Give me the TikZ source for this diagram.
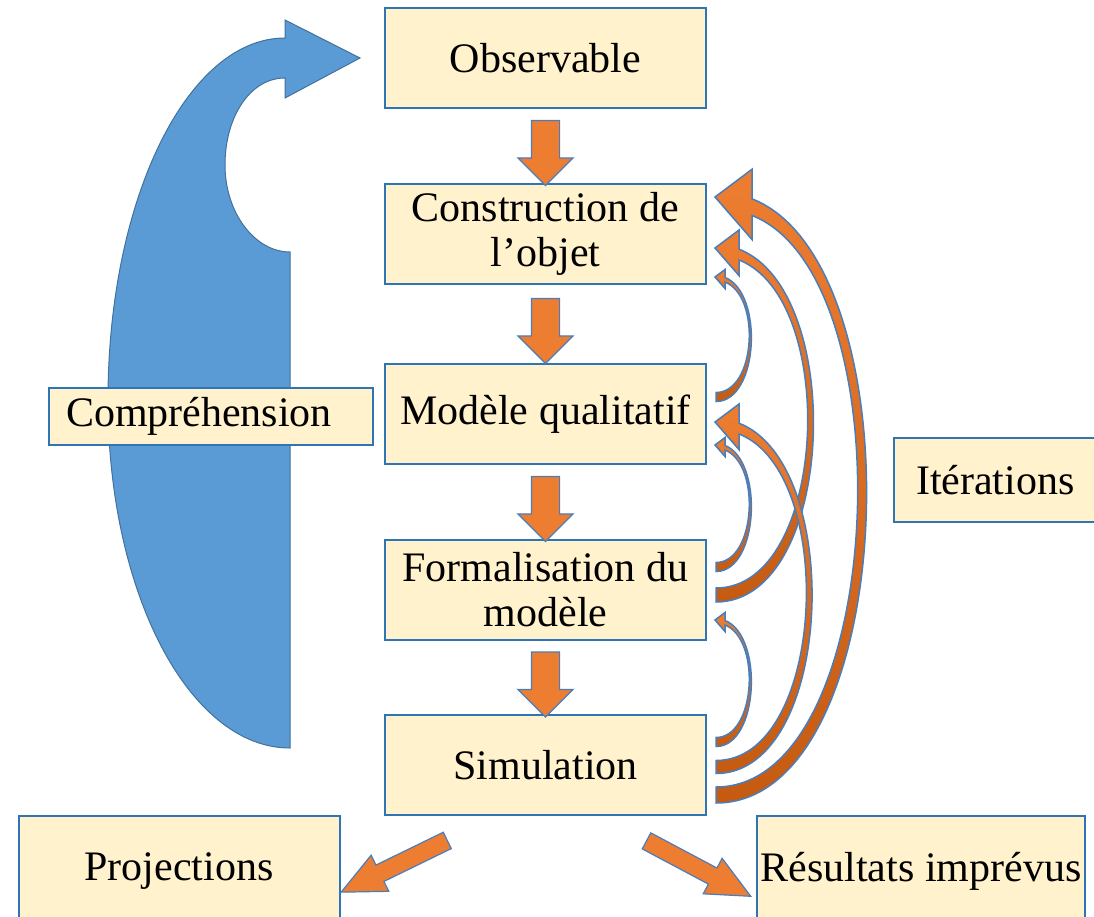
\documentclass[tikz,border=0pt]{standalone}
\usepackage{fontspec}
\setmainfont{Liberation Serif}
\usetikzlibrary{calc,shapes.arrows}

\definecolor{boxfill}{HTML}{FFF2CC}
\definecolor{boxline}{HTML}{2E75B6}
\definecolor{arrorange}{HTML}{ED7D31}
\definecolor{arrdark}{HTML}{C55A11}
\definecolor{arrline}{HTML}{4A7EBB}
\definecolor{loopblue}{HTML}{5B9BD5}
\definecolor{loopline}{HTML}{41719C}

\tikzset{
  box/.style={draw=boxline, line width=2pt, fill=boxfill, minimum width=321,
    minimum height=100, align=center, font=\fontsize{42}{45}\selectfont},
  flowarrow/.style={single arrow, draw=arrline, line width=1.2pt, fill=arrorange,
    inner sep=13.5, minimum height=65,
    single arrow head extend=13.5, single arrow tip angle=90},
  outarrow/.style={flowarrow, inner sep=8.5, minimum height=118,
    single arrow head extend=11, single arrow tip angle=50},
  iterband/.style={draw=arrline, line width=1.5pt, top color=arrorange, bottom color=arrdark}
}

% curved feedback arrow: #1 from, #2 tail offset, #3 to, #4 tip offset,
% #5 bow, #6 head length, #7 tail width
\newcommand\iterarrow[7]{%
  \coordinate (tl) at ($(#1.east)+(9,#2)$);
  \coordinate (tp) at ($(#3.east)+(8,#4)$);
  \path[iterband] ($(tl)+(0,#7/2)$)
    .. controls +(#5,0) and +(0.9*#5,0.35*#5) .. ($(tp)+(#6,0.05*#6)$)
    -- ($(tp)+(#6,-0.75*#6)$) -- (tp) -- ($(tp)+(#6,1.15*#6)$) -- ($(tp)+(#6,0.5*#6)$)
    .. controls +(0.84*#5,0.33*#5) and +(0.93*#5,0) .. ($(tl)-(0,#7/2)$) -- cycle;
}

\begin{document}
\begin{tikzpicture}[x=1pt,y=-1pt]
\useasboundingbox (0,0) rectangle (1094,917);

% big blue loop on the left
\path[draw=loopline, line width=1pt, fill=loopblue]
  (290,748) -- (290,252)
  .. controls (255,252) and (225,213) .. (225,165)
  .. controls (225,117) and (250,78) .. (285,78)
  -- (285,98) -- (360,58) -- (285,20) -- (285,38)
  .. controls (187,38) and (108,200) .. (108,400)
  .. controls (108,592) and (189,748) .. (290,748) -- cycle;

\node[box] (obs) at (545.5,58) {Observable};
\node[box] (constr) at (545.5,234) {Construction de\\l’objet};
\node[box] (modele) at (545.5,414) {Modèle qualitatif};
\node[box] (formal) at (545.5,590) {Formalisation du\\modèle};
\node[box] (simul) at (545.5,765) {Simulation};
\node[box, minimum height=110] (proj) at (179,871) {Projections};
\node[box, minimum height=110] (result) at (921,871) {Résultats imprévus};
\node[box, anchor=west, minimum height=57, text width=290, align=left, inner xsep=17] (compr) at (48,416.5) {Compréhension};
\node[box, anchor=west, minimum height=84, text width=280, align=left, inner xsep=22] (iter) at (893,480) {Itérations};

% main flow
\node[flowarrow, rotate=-90] at ($(obs.south)!.5!(constr.north)$) {};
\node[flowarrow, rotate=-90] at ($(constr.south)!.5!(modele.north)$) {};
\node[flowarrow, rotate=-90] at ($(modele.south)!.5!(formal.north)$) {};
\node[flowarrow, rotate=-90] at ($(formal.south)!.5!(simul.north)$) {};

% outputs
\node[outarrow, rotate=206] at (403,862) {};
\node[outarrow, rotate=-28] at (690,864) {};

% iterations back up the chain
\iterarrow{simul}{30}{constr}{-37}{185}{37}{16}
\iterarrow{formal}{5}{constr}{14}{120}{24}{14}
\iterarrow{simul}{2}{modele}{8}{118}{24}{13}
\iterarrow{modele}{-17}{constr}{43}{43}{10}{9}
\iterarrow{formal}{-23}{modele}{31}{43}{10}{9}
\iterarrow{simul}{-23}{formal}{30}{43}{10}{9}
\end{tikzpicture}
\end{document}
